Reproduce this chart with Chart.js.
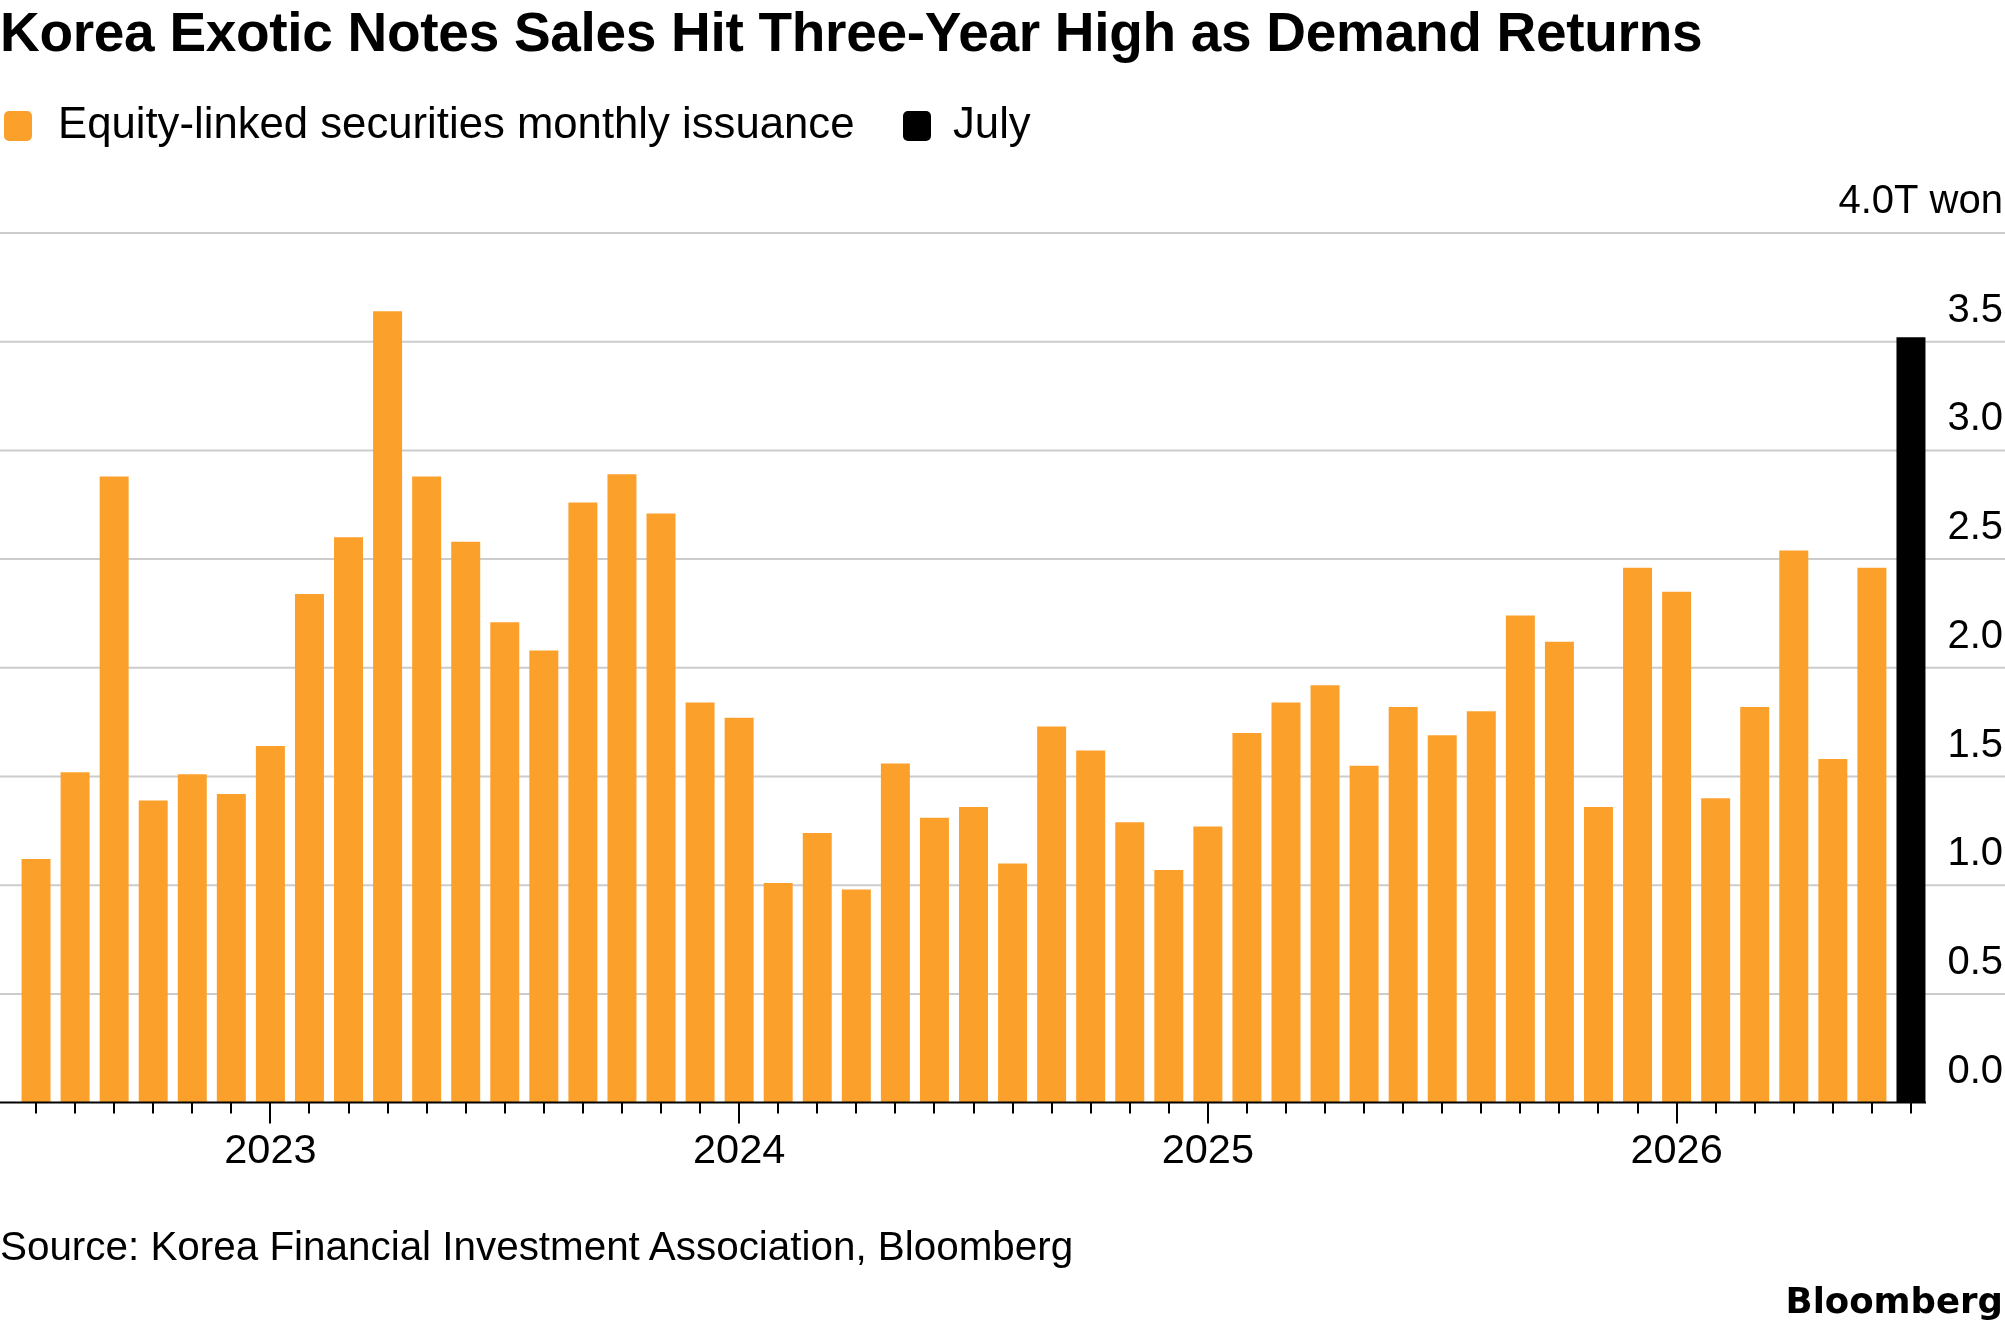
<!DOCTYPE html>
<html lang="en">
<head>
  <meta charset="UTF-8">
  <title>Korea Exotic Notes Sales</title>
  <script src="https://cdn.jsdelivr.net/npm/chart.js"></script>
  <style>
    html, body {
      margin: 0;
      padding: 0;
      background: #ffffff;
    }
    .page {
      position: relative;
      width: 2005px;
      height: 1329px;
      overflow: hidden;
      font-family: "Liberation Sans", Arial, Helvetica, sans-serif;
      color: #000;
    }
    .page canvas {
      position: absolute;
      left: 0;
      top: 0;
    }
    .title {
      position: absolute;
      left: 0;
      top: 5px;
      font-size: 55px;
      line-height: 55px;
      font-weight: bold;
      letter-spacing: -0.3px;
      white-space: nowrap;
    }
    .legend-item {
      position: absolute;
      top: 101px;
      font-size: 43.7px;
      line-height: 43px;
      white-space: nowrap;
    }
    .swatch {
      position: absolute;
      top: 111px;
      width: 28px;
      height: 30px;
      border-radius: 5px;
    }
    .source {
      position: absolute;
      left: 0;
      top: 1226px;
      font-size: 40.4px;
      line-height: 40px;
      white-space: nowrap;
    }
    .brand {
      position: absolute;
      right: 2px;
      top: 1283px;
      font-family: "DejaVu Sans", sans-serif;
      font-weight: bold;
      font-size: 35.5px;
      line-height: 36px;
      white-space: nowrap;
    }
  </style>
</head>
<body>

<div class="page">
  <canvas id="elsChart" width="2005" height="1329"></canvas>

  <div class="title">Korea Exotic Notes Sales Hit Three-Year High as Demand Returns</div>

  <div class="swatch" style="left: 4px; background: #fca02c;"></div>
  <div class="legend-item" style="left: 58px;">Equity-linked securities monthly issuance</div>
  <div class="swatch" style="left: 903px; background: #000;"></div>
  <div class="legend-item" style="left: 953px;">July</div>

  <div class="source">Source: Korea Financial Investment Association, Bloomberg</div>
  <div class="brand">Bloomberg</div>
</div>

<script>
  // monthly categories, Jul 2022 .. Jul 2026
  const months = [
    '2022-07', '2022-08', '2022-09', '2022-10', '2022-11', '2022-12',
    '2023-01', '2023-02', '2023-03', '2023-04', '2023-05', '2023-06',
    '2023-07', '2023-08', '2023-09', '2023-10', '2023-11', '2023-12',
    '2024-01', '2024-02', '2024-03', '2024-04', '2024-05', '2024-06',
    '2024-07', '2024-08', '2024-09', '2024-10', '2024-11', '2024-12',
    '2025-01', '2025-02', '2025-03', '2025-04', '2025-05', '2025-06',
    '2025-07', '2025-08', '2025-09', '2025-10', '2025-11', '2025-12',
    '2026-01', '2026-02', '2026-03', '2026-04', '2026-05', '2026-06',
    '2026-07'
  ];

  // issuance, trillion won
  const issuance = [
    1.12, 1.52, 2.88, 1.39, 1.51, 1.42,
    1.64, 2.34, 2.60, 3.64, 2.88, 2.58,
    2.21, 2.08, 2.76, 2.89, 2.71, 1.84,
    1.77, 1.01, 1.24, 0.98, 1.56, 1.31,
    1.36, 1.10, 1.73, 1.62, 1.29, 1.07,
    1.27, 1.70, 1.84, 1.92, 1.55, 1.82,
    1.69, 1.80, 2.24, 2.12, 1.36, 2.46,
    2.35, 1.40, 1.82, 2.54, 1.58, 2.46,
    3.52
  ];

  const highlightMonth = '2026-07';

  const yTicks = [0, 0.5, 1, 1.5, 2, 2.5, 3, 3.5, 4];
  const yTickLabels = ['0.0', '0.5', '1.0', '1.5', '2.0', '2.5', '3.0', '3.5', '4.0T won'];

  const ORANGE = '#fca02c';
  const FONT = '"Liberation Sans", Arial, Helvetica, sans-serif';

  // gridlines across the full width, baseline, month ticks and right-hand labels
  const frame = {
    id: 'frame',
    beforeDatasetsDraw(chart) {
      const { ctx, scales: { y } } = chart;
      ctx.save();
      ctx.strokeStyle = '#cccccc';
      ctx.lineWidth = 2;
      yTicks.forEach(v => {
        if (v === 0) return;
        const py = y.getPixelForValue(v);
        ctx.beginPath();
        ctx.moveTo(0, py);
        ctx.lineTo(chart.width, py);
        ctx.stroke();
      });
      ctx.restore();
    },
    afterDatasetsDraw(chart) {
      const { ctx, scales: { x, y } } = chart;
      const base = y.getPixelForValue(0);
      const lastRight = x.getPixelForValue(months.length - 1) + 15;
      ctx.save();
      ctx.strokeStyle = '#000';
      ctx.lineWidth = 2;
      ctx.beginPath();
      ctx.moveTo(0, base);
      ctx.lineTo(lastRight, base);
      ctx.stroke();
      months.forEach((m, i) => {
        const px = Math.round(x.getPixelForValue(i));
        const len = m.endsWith('-01') ? 21 : 11;
        ctx.beginPath();
        ctx.moveTo(px, base);
        ctx.lineTo(px, base + len);
        ctx.stroke();
      });
      ctx.fillStyle = '#000';
      ctx.font = '40px ' + FONT;
      ctx.textAlign = 'right';
      ctx.textBaseline = 'alphabetic';
      yTicks.forEach((v, i) => {
        ctx.fillText(yTickLabels[i], chart.width - 2, y.getPixelForValue(v) - 20);
      });
      ctx.restore();
    }
  };

  new Chart(document.getElementById('elsChart'), {
    type: 'bar',
    data: {
      labels: months,
      datasets: [{
        label: 'Equity-linked securities monthly issuance',
        data: issuance,
        backgroundColor: months.map(m => m === highlightMonth ? '#000000' : ORANGE),
        borderWidth: 0,
        categoryPercentage: 1,
        barPercentage: 0.742
      }]
    },
    options: {
      responsive: false,
      animation: false,
      layout: {
        padding: { top: 233, left: 16.5, right: 0, bottom: 146.4 }
      },
      plugins: {
        legend: { display: false },
        tooltip: { enabled: false }
      },
      scales: {
        x: {
          grid: { display: false, drawTicks: false },
          border: { display: false },
          afterFit: scale => { scale.height = 80; },
          ticks: {
            autoSkip: false,
            maxRotation: 0,
            padding: 24,
            color: '#000',
            font: { family: FONT, size: 41.5 },
            callback: (value, index) => months[index].endsWith('-01') ? months[index].slice(0, 4) : ''
          }
        },
        y: {
          position: 'right',
          min: 0,
          max: 4,
          grid: { display: false, drawTicks: false },
          border: { display: false },
          ticks: { display: false, stepSize: 0.5 },
          afterFit: scale => { scale.width = 74.5; }
        }
      }
    },
    plugins: [frame]
  });
</script>

</body>
</html>
